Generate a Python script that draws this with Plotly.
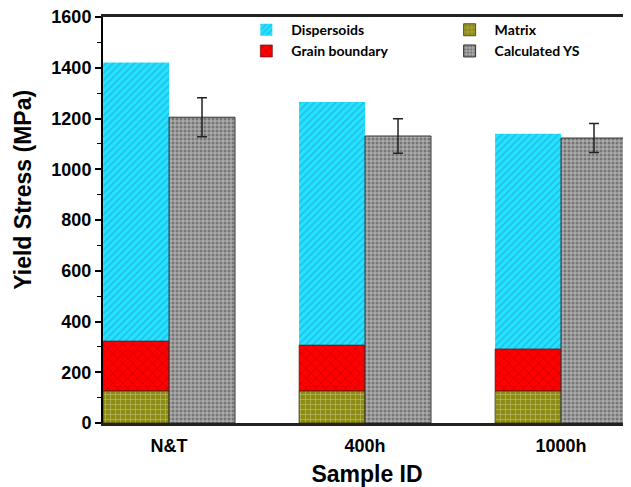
import plotly.graph_objects as go

samples = ["N&T", "400h", "1000h"]
matrix = [126, 126, 126]
grain_boundary = [197, 181, 166]
dispersoids = [1098, 958, 848]
calculated_ys = [1205, 1131, 1123]
calculated_err = [77, 68, 57]

base_gb = [m for m in matrix]
base_disp = [m + g for m, g in zip(matrix, grain_boundary)]

fig = go.Figure()
fig.add_trace(go.Bar(
    x=samples, y=dispersoids, base=base_disp, name="Dispersoids", offsetgroup="a",
    legend="legend", legendrank=1,
    marker=dict(color="#22e4ff", line=dict(width=0),
                pattern=dict(shape="/", fgcolor="#2a8fd0", size=5, solidity=0.3)),
))
fig.add_trace(go.Bar(
    x=samples, y=grain_boundary, base=base_gb, name="Grain boundary", offsetgroup="a",
    legend="legend", legendrank=2,
    marker=dict(color="#ff0000", line=dict(width=0.6, color="#600000"),
                pattern=dict(shape="x", fgcolor="#a00000", size=7, solidity=0.25)),
))
fig.add_trace(go.Bar(
    x=samples, y=matrix, name="Matrix", offsetgroup="a",
    legend="legend2", legendrank=1,
    marker=dict(color="#8c8c14", line=dict(width=0.8, color="#333300"),
                pattern=dict(shape="+", fgcolor="#e8e8b8", size=5, solidity=0.25)),
))
fig.add_trace(go.Bar(
    x=samples, y=calculated_ys, name="Calculated YS", offsetgroup="b",
    legend="legend2", legendrank=2,
    error_y=dict(type="data", array=calculated_err, color="#222222", thickness=1.5, width=5),
    marker=dict(color="#aaaaaa", line=dict(width=1, color="#333333"),
                pattern=dict(shape=".", fgcolor="#404040", size=4, solidity=0.45)),
))

legend_style = dict(orientation="v", y=1.007, xanchor="left", yanchor="top",
                    traceorder="normal", itemwidth=40, tracegroupgap=0,
                    font=dict(family="Lato", size=14, color="black", weight="bold"),
                    bgcolor="rgba(0,0,0,0)")

fig.update_layout(
    width=623, height=479,
    margin=dict(l=95, r=0, t=9, b=64),
    barmode="group", bargap=0.327, bargroupgap=0,
    plot_bgcolor="white", paper_bgcolor="white",
    font=dict(family="Liberation Sans", color="black"),
    legend=dict(x=0.262, **legend_style),
    legend2=dict(x=0.647, **legend_style),
    xaxis=dict(range=[-0.337, 2.357], showline=True, linecolor="#222222", linewidth=2.5,
               mirror=True, ticks="", showgrid=False, ticklabelstandoff=5, automargin=False,
               tickfont=dict(family="Liberation Sans", size=18, color="black", weight="bold"),
               title=dict(text="<b>Sample ID</b>", font=dict(family="Liberation Sans", size=23), standoff=21)),
    yaxis=dict(range=[0, 1600], dtick=200, showline=True, linecolor="black", linewidth=2,
               ticks="outside", ticklen=6, tickwidth=1.5, tickcolor="black", showgrid=False,
               minor=dict(dtick=100, ticks="outside", ticklen=4, tickwidth=1.2, tickcolor="black"),
               zeroline=False, ticklabeloverflow="allow", automargin=False,
               tickfont=dict(family="Liberation Sans", size=18, color="black", weight="bold")),
    annotations=[dict(text="<b>Yield Stress (MPa)</b>", textangle=-90, xref="paper", yref="paper",
                      x=-0.152, y=0.574, xanchor="center", yanchor="middle", showarrow=False,
                      font=dict(family="Liberation Sans", size=23, color="black"))],
)

fig.write_html("out.html")
